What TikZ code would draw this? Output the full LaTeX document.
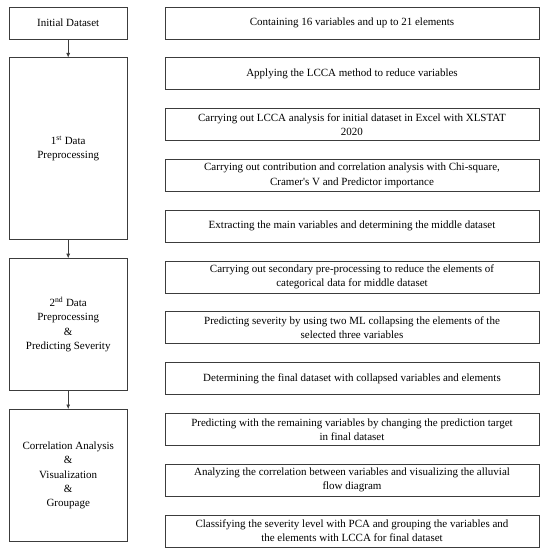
\documentclass[tikz,border=0pt]{standalone}
\usepackage{fontspec}
\setmainfont{Liberation Serif}
\usepackage{tikz}
\usetikzlibrary{arrows.meta, positioning}
\usepackage{xcolor}
\definecolor{FrameGray}{RGB}{60, 60, 60}
\tikzset{%
  stage_block/.style={%
    rectangle,%
    draw=FrameGray,%
    line width=0.8pt,%
    minimum width=118pt,%
    inner sep=0pt,%
    font={\fontsize{11}{14.2}\selectfont},%
    align=center%
  },
  task_block/.style={%
    rectangle,%
    draw=FrameGray,%
    line width=0.8pt,%
    minimum width=374pt,%
    minimum height=32pt,%
    inner sep=0pt,%
    font={\fontsize{11}{14.2}\selectfont},%
    align=center%
  },
  flow_path/.style={%
    color=FrameGray,%
    line width=0.6pt,%
    -{Latex[length=4.5pt, width=4pt]}%
  },
}

\begin{document}
\begin{tikzpicture}[x=1pt, y=1pt]
    \useasboundingbox (0,0) rectangle (542,-550);

    % tasks on the right
    \node [task_block] at (352,-23) (Contain)
      {Containing 16 variables and up to 21 elements};
    \node [task_block, below = 18pt of Contain] (Apply)
      {Applying the LCCA method to reduce variables};
    \node [task_block, below = 18pt of Apply] (Excel)
      {Carrying out LCCA analysis for initial dataset in Excel with XLSTAT\\2020};
    \node [task_block, below = 18pt of Excel] (Contrib)
      {Carrying out contribution and correlation analysis with Chi-square,\\Cramer\textquotesingle s V and Predictor importance};
    \node [task_block, below = 18pt of Contrib] (Extract)
      {Extracting the main variables and determining the middle dataset};
    \node [task_block, below = 18pt of Extract] (Second)
      {Carrying out secondary pre-processing to reduce the elements of\\categorical data for middle dataset};
    \node [task_block, below = 18pt of Second] (Severity)
      {Predicting severity by using two ML collapsing the elements of the\\selected three variables};
    \node [task_block, below = 18pt of Severity] (Final)
      {Determining the final dataset with collapsed variables and elements};
    \node [task_block, below = 18pt of Final] (Target)
      {Predicting with the remaining variables by changing the prediction target\\in final dataset};
    \node [task_block, below = 18pt of Target] (Alluvial)
      {Analyzing the correlation between variables and visualizing the alluvial\\flow diagram};
    \node [task_block, below = 18pt of Alluvial] (Classify)
      {Classifying the severity level with PCA and grouping the variables and\\the elements with LCCA for final dataset};

    % stages on the left
    \node [stage_block, minimum height=32pt, left = 37pt of Contain] (Init)
      {Initial Dataset};
    \node [stage_block, minimum height=182pt, below = 18pt of Init] (Prep1)
      {1\textsuperscript{st} Data\\Preprocessing};
    \node [stage_block, minimum height=132pt, below = 18pt of Prep1] (Prep2)
      {2\textsuperscript{nd} Data\\Preprocessing\\\&\\Predicting Severity};
    \node [stage_block, minimum height=132pt, below = 18pt of Prep2] (Corr)
      {Correlation Analysis\\\&\\Visualization\\\&\\Groupage};

    \draw [flow_path] (Init.south) -- (Prep1.north);
    \draw [flow_path] (Prep1.south) -- (Prep2.north);
    \draw [flow_path] (Prep2.south) -- (Corr.north);
\end{tikzpicture}
\end{document}
